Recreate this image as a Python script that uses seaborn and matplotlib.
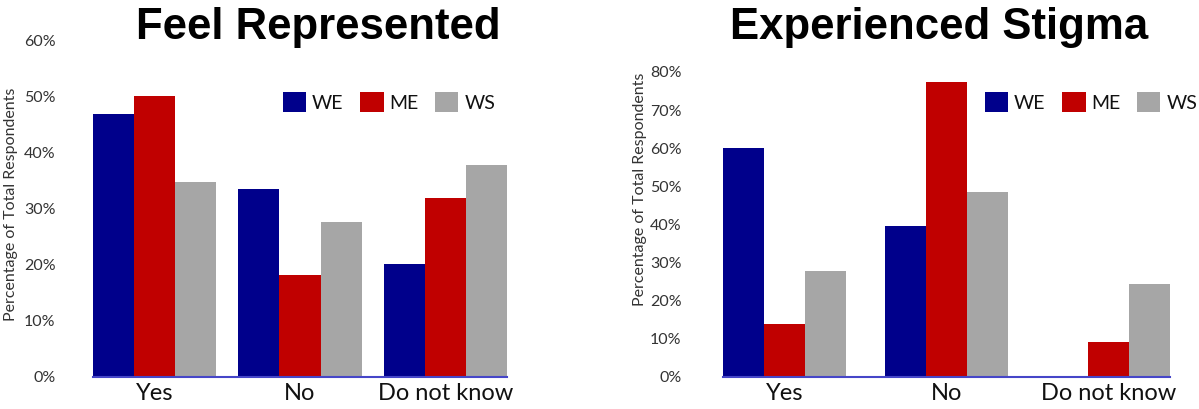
import matplotlib
matplotlib.use("Agg")
import matplotlib.pyplot as plt
import seaborn as sns
import pandas as pd
from matplotlib.ticker import PercentFormatter, MultipleLocator

# ---- data ----
categories = ["Yes", "No", "Do not know"]
groups = ["WE", "ME", "WS"]
colors = ["#00008B", "#C00000", "#A6A6A6"]

rep_we = [47.0, 33.5, 20.2]
rep_me = [50.2, 18.3, 32.0]
rep_ws = [34.8, 27.7, 37.9]

stig_we = [60.0, 39.7, 0.0]
stig_me = [13.9, 77.4, 9.3]
stig_ws = [27.7, 48.4, 24.4]

title_left = "Feel Represented"
title_right = "Experienced Stigma"
ylabel = "Percentage of Total Respondents"


def long_df(we, me, ws):
    rows = []
    for g, vals in zip(groups, [we, me, ws]):
        for c, v in zip(categories, vals):
            rows.append({"cat": c, "grp": g, "val": v})
    return pd.DataFrame(rows)


sns.set_theme(style="white")
plt.rcParams["font.family"] = ["Lato", "DejaVu Sans"]

W, H = 1199, 409
fig = plt.figure(figsize=(W / 100, H / 100), dpi=100)

ax1 = fig.add_axes([93 / W, 32 / H, 414 / W, 336 / H])
ax2 = fig.add_axes([723 / W, 32 / H, 447 / W, 305 / H])


def draw(ax, df, ymax, width, legend_x, ylab_x, ylab_y, tickpad):
    sns.barplot(data=df, x="cat", y="val", hue="grp", order=categories,
                hue_order=groups, palette=colors, width=width, ax=ax,
                saturation=1, edgecolor="none", linewidth=0, errorbar=None)
    half = width / 2
    ax.set_xlim(-half, len(categories) - 1 + half)
    ax.set_ylim(0, ymax)
    ax.yaxis.set_major_locator(MultipleLocator(10))
    ax.yaxis.set_major_formatter(PercentFormatter(100, decimals=0))
    for s in ["top", "right", "left"]:
        ax.spines[s].set_visible(False)
    ax.spines["bottom"].set_color("#4646C8")
    ax.spines["bottom"].set_linewidth(1.5)
    ax.tick_params(axis="x", length=0, pad=4, labelsize=17, labelcolor="#111111")
    ax.tick_params(axis="y", length=0, pad=tickpad, labelsize=11.5, labelcolor="#333333")
    ax.set_xlabel("")
    ax.set_ylabel(ylabel, fontsize=11.5, color="#333333")
    ax.yaxis.set_label_coords(ylab_x, ylab_y)
    handles, labels = ax.get_legend_handles_labels()
    if ax.get_legend() is not None:
        ax.get_legend().remove()
    ax.legend(handles, labels, loc="center left",
              bbox_to_anchor=(legend_x, 1 - 102 / H),
              bbox_transform=fig.transFigure, ncol=3, frameon=False,
              fontsize=14, handlelength=1.2, handleheight=1.25,
              handletextpad=0.3, columnspacing=0.85, borderpad=0,
              borderaxespad=0, labelcolor="#111111")


draw(ax1, long_df(rep_we, rep_me, rep_ws), 60, 0.85, 283 / W, -0.18, 0.515, 27)
draw(ax2, long_df(stig_we, stig_me, stig_ws), 80, 0.76, 985 / W, -0.17, 0.616, 30)

fig.text(318 / W, 1 - 39 / H, title_left, ha="center", va="baseline",
         fontsize=31.5, fontweight="bold", color="black",
         family=["Liberation Sans", "DejaVu Sans"])
fig.text(939.5 / W, 1 - 39 / H, title_right, ha="center", va="baseline",
         fontsize=31.5, fontweight="bold", color="black",
         family=["Liberation Sans", "DejaVu Sans"])

fig.savefig("out.png", dpi=100)
